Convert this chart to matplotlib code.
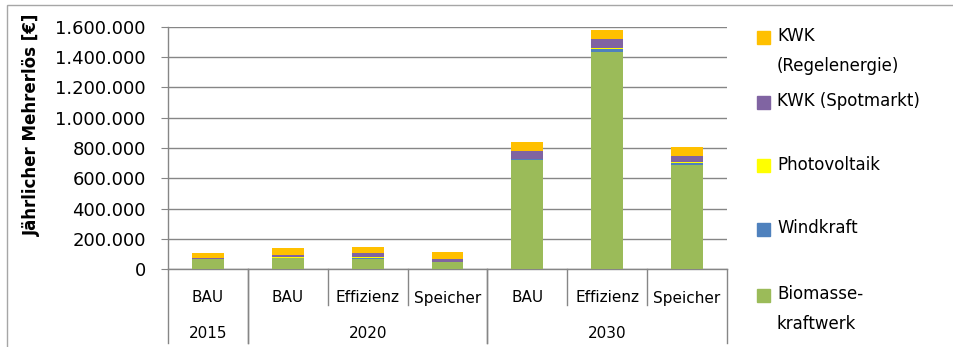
import matplotlib.pyplot as plt
from matplotlib.patches import Rectangle
from matplotlib.ticker import FuncFormatter
import numpy as np

# ---------------- DATA ----------------
scenarios = ["BAU", "BAU", "Effizienz", "Speicher", "BAU", "Effizienz", "Speicher"]
years = ["2015", "2020", "2030"]
year_span = [(0, 0), (1, 3), (4, 6)]          # first/last scenario index per year

biomasse = [66000, 70000, 68000, 48000, 720000, 1437000, 688000]
windkraft = [0, 2000, 6000, 0, 6000, 15000, 13000]
photovoltaik = [2000, 5000, 8000, 0, 3000, 8000, 6000]
kwk_spot = [5000, 13000, 22000, 20000, 51000, 60000, 40000]
kwk_regel = [31000, 48000, 44000, 42000, 60000, 60000, 57000]

series = [
    ("Biomasse-\nkraftwerk", biomasse, "#9BBB59"),
    ("Windkraft", windkraft, "#4F81BD"),
    ("Photovoltaik", photovoltaik, "#FFFF00"),
    ("KWK (Spotmarkt)", kwk_spot, "#8064A2"),
    ("KWK\n(Regelenergie)", kwk_regel, "#FFC000"),
]
# --------------------------------------

W, H = 954, 347
fig = plt.figure(figsize=(W / 100, H / 100), dpi=100)
plt.rcParams["font.family"] = "DejaVu Sans"

def fx(px):
    return px / W

def fy(py):
    return 1 - py / H

# chart area border (only left/top inside the image)
fig.add_artist(Rectangle((fx(7), fy(400)), fx(1100), fy(5) - fy(400),
                         transform=fig.transFigure, fill=False,
                         edgecolor="#A6A6A6", linewidth=1))

ax = fig.add_axes([fx(168), fy(269), fx(727) - fx(168), fy(27) - fy(269)])

x = np.arange(len(scenarios))
bottom = np.zeros(len(scenarios))
for name, vals, col in series:
    ax.bar(x, vals, width=0.4, bottom=bottom, color=col, zorder=3)
    bottom += np.array(vals)

ax.set_xlim(-0.5, len(scenarios) - 0.5)
ax.set_ylim(0, 1600000)
ax.set_yticks(np.arange(0, 1600001, 200000))
ax.yaxis.set_major_formatter(FuncFormatter(lambda v, p: f"{v:,.0f}".replace(",", ".")))
ax.tick_params(axis="y", length=5, color="#868686", labelsize=13, pad=11)
ax.set_xticks([])
ax.grid(axis="y", color="#868686", linewidth=1, zorder=0)

for s in ["top", "right"]:
    ax.spines[s].set_visible(False)
for s in ["left", "bottom"]:
    ax.spines[s].set_color("#868686")
    ax.spines[s].set_linewidth(1)

fig.text(fx(32), fy(125), "Jährlicher Mehrerlös [€]", rotation=90,
         ha="center", va="center", fontsize=12, fontweight="bold")

# two-level category axis
trans = ax.get_xaxis_transform()
short_y = (269 - 305) / 242
long_y = (269 - 343) / 242
for i, lab in enumerate(scenarios):
    ax.text(i, (269 - 298) / 242, lab, transform=trans, ha="center", va="center", fontsize=11)
for yr, (a, b) in zip(years, year_span):
    ax.text((a + b) / 2, (269 - 333) / 242, yr, transform=trans, ha="center", va="center", fontsize=11)
    for edge in (a - 0.5, b + 0.5):
        ax.plot([edge, edge], [0, long_y], transform=trans, color="#868686", lw=1, clip_on=False)
    for k in range(a, b):
        ax.plot([k + 0.5, k + 0.5], [0, short_y], transform=trans, color="#868686", lw=1, clip_on=False)

# legend on the right, top entry first
legend_rows = [("KWK\n(Regelenergie)", "#FFC000", 37),
               ("KWK (Spotmarkt)", "#8064A2", 102),
               ("Photovoltaik", "#FFFF00", 166),
               ("Windkraft", "#4F81BD", 229),
               ("Biomasse-\nkraftwerk", "#9BBB59", 295)]
for text, col, py in legend_rows:
    fig.add_artist(Rectangle((fx(757), fy(py + 6.5)), fx(13), fy(py - 6.5) - fy(py + 6.5),
                             transform=fig.transFigure, color=col))
    fig.text(fx(777), fy(py - 10), text, ha="left", va="top", fontsize=12, linespacing=1.85)

fig.savefig("out.png", dpi=100)
